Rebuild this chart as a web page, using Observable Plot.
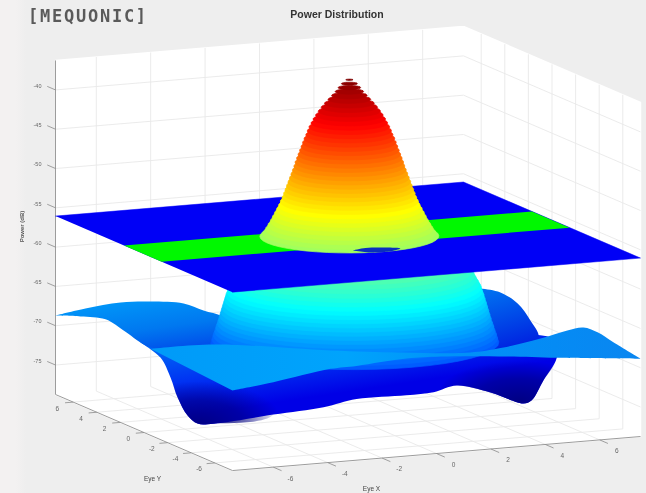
<!DOCTYPE html>
<html><head><meta charset="utf-8">
<script src="https://cdn.jsdelivr.net/npm/d3@7"></script>
<script src="https://cdn.jsdelivr.net/npm/@observablehq/plot@0.6"></script>
<style>
html,body{margin:0;padding:0;width:646px;height:493px;overflow:hidden;background:linear-gradient(90deg,#f3f1f1 0,#f3f1f1 16px,#eeeeee 26px);}
#head{position:relative;height:26px;filter:blur(.7px);}
#logo{position:absolute;left:28px;top:6px;font:bold 17px "DejaVu Sans Mono",monospace;letter-spacing:1.75px;color:#5a5a5a;line-height:20px;white-space:nowrap;}
#title{position:absolute;left:287px;top:8px;width:100px;text-align:center;font:bold 10.5px "Liberation Sans",sans-serif;color:#333;line-height:13px;white-space:nowrap;}
#chart svg{display:block;filter:blur(.75px);background:transparent;}
</style></head><body>
<div id="head"><div id="logo">[MEQUONIC]</div><div id="title">Power Distribution</div></div>
<div id="chart"></div>
<script>
// ---- data (Eye X, Eye Y in model units, power in dB) ----
const xRange = [-7.5, 7.5];
const yRange = [-7.5, 7.5];
const zRange = [-79.2, -36.7];
const xTicks = [-6, -4, -2, 0, 2, 4, 6];
const yTicks = [6, 4, 2, 0, -2, -4, -6];
const zTickAt = [-40.45, -45.45, -50.45, -55.45, -60.45, -65.45, -70.45, -75.45];
const zTickText = ["-40", "-45", "-50", "-55", "-60", "-65", "-70", "-75"];

const planePower = -56.5;
const bandY = [-1.5, 1.7];

// dome above the plane: power, radius
const domePower = [-56.4,-56,-55.5,-55,-54.5,-54,-53.5,-53,-52.5,-52,-51.5,-51,-50.5,-50,-49.5,-49,-48.5,-48,-47.5,-47,-46.5,-46,-45.5,-45,-44.5,-44,-43.5,-43,-42.5,-42,-41.5,-41,-40.5,-40,-39.5,-39,-38.5,-38,-37.5,-37,-36.5];
const domeRadius = [3.02,2.92,2.83,2.75,2.67,2.6,2.53,2.46,2.39,2.33,2.27,2.22,2.17,2.12,2.07,2.02,1.97,1.92,1.87,1.83,1.78,1.73,1.68,1.63,1.58,1.53,1.47,1.42,1.36,1.29,1.22,1.14,1.05,.95,.84,.72,.6,.48,.38,.27,.12];
// column below the plane: power, radius
const columnPower = [-70,-69.5,-69,-68.5,-68,-67.5,-67,-66.5,-66,-65.5,-65,-64.5,-64,-63.5,-63,-62.5,-62,-61.5,-61,-60.5,-60,-59.5,-59,-58.5,-58,-57.5,-57];
const columnRadius = [4.86,4.82,4.78,4.73,4.69,4.64,4.6,4.56,4.52,4.48,4.44,4.4,4.36,4.31,4.27,4.2,4.12,4.05,3.95,3.85,3.75,3.65,3.55,3.45,3.35,3.25,3.15];
const domeCentreX = 0.05, columnCentreX = 0.25;

// surface outlines: [Eye X, Eye Y, power]
const leftLobe = [[-7.5,7.5,-69.15],[-6.72,6.76,-68],[-5.21,7.26,-68],[-4.22,7.01,-68],[-3.34,6.23,-68],[-3.23,4.8,-68],[-3.07,3.55,-68],[-3.52,.98,-68],[-5.27,-2.18,-68],[-7.5,-.55,-68],[-7.5,1.57,-67.4],[-7.5,3.26,-66.9],[-7.5,5.38,-67.9],[-7.5,7.5,-69.15]];
const rightLobe = [[6.64,4.92,-68],[6.87,4.61,-68],[7.2,3.68,-68],[6.94,1.62,-68],[6.12,-1.35,-68],[5.14,-4.28,-68],[3.04,-5.9,-68],[2.22,-3.56,-68]];
const skirt = [[-6.34,2.98,-70],[-6.24,1.51,-71],[-6.23,.68,-73],[-6.32,-.13,-75],[-6.18,-.65,-77],[-6,-1.08,-77.8],[-5.68,-1.7,-77.5],[-4.26,-3.5,-75.6],[-2.98,-4.8,-74.2],[-1.94,-5.2,-73.2],[-.24,-5.5,-73],[.76,-5.5,-72.9],[3.13,-2,-75],[4.8,-1.02,-77],[5.59,-1.99,-78],[5.76,-2.27,-77.5],[6.16,-2.36,-75],[6.73,-2.16,-72.5],[5.49,-5.02,-68],[-2.75,-2.32,-68],[-6.8,1.47,-68]];
const skirtDarkLeft = [[-6.23,.68,-73],[-6.32,-.13,-75],[-6.18,-.65,-77],[-6,-1.08,-77.8],[-5.68,-1.7,-77.5],[-4.26,-3.5,-75.6],[-3.84,-2.54,-72],[-5.37,.11,-72]];
const skirtDarkRight = [[1.78,-3.73,-74],[3.13,-2,-75],[4.8,-1.02,-77],[5.59,-1.99,-78],[5.76,-2.27,-77.5],[6.16,-2.36,-75],[6.73,-2.16,-72.5],[6.22,-1.12,-72],[3.7,-.99,-72]];
const flap = [[-7.5,-.55,-68.2],[-5.92,-2.26,-67],[-2.75,-4.86,-67],[-.74,-6.15,-67],[1.41,-7.12,-67],[7.5,4.36,-75.6],[7.5,.97,-72.2],[7.5,-1.3,-69.7],[7.5,-2.67,-68.45],[7.5,-3.86,-68.3],[7.5,-5.2,-68.7],[7.5,-7.5,-69.3],[7.5,-7.5,-69.3],[4.45,-7.5,-68.3],[2.61,-7.5,-67.6],[.15,-7.5,-66.9],[-1.1,-7.5,-66.8],[-2.94,-7.5,-67.2],[-3.9,-7.5,-67.3],[-6,-7.5,-68.4],[-7.5,-7.5,-69],[-7.5,-7.5,-69]];
const hole = [[-.82,-2.27,-56.5],[-.24,-2.04,-56.5],[.41,-2.24,-56.5],[.8,-2.6,-56.5],[.21,-2.94,-56.5],[-.47,-2.83,-56.5]];

const jetPower = [-79.2,-74.5,-68.5,-58,-47.5,-41.5,-36.7];
const jetColor = ["#00008f","#0000ff","#0080ff","#7fff7f","#ffff00","#ff2000","#7f0000"].map((c,i)=>c);
jetPower.splice(0, jetPower.length, -79.2,-73.86,-63.2,-52.5,-41.8,-36.5);
jetColor.splice(0, jetColor.length, "#00008f","#0000ff","#00ffff","#ffff00","#ff0000","#7f0000");

// ---- view: orthographic view of the box ----
const px = ([X, Y]) => 347.5 + 27.2 * X - 11.8 * Y;
const py = ([X, Y, Z]) => 415 - 2.27 * X - 5.07 * Y - 7.86 * (Z - zRange[0]);

const shape = (id, pts) => pts.map(p => ({id, p}));
const ring = (row, r, Z, cx) => d3.range(0, 49).map(i => {
  const a = i / 48 * 2 * Math.PI;
  return {id: row, power: Z, p: [cx + r * Math.cos(a), r * Math.sin(a), Z]};
});
const rings = (zs, rs, cx) => zs.flatMap((Z, i) => ring(i, rs[i], Z, cx));

const [x0, x1] = xRange, [y0, y1] = yRange, [zb, zt] = zRange;
const poly = (pts, opts) => Plot.line(pts, {x: px, y: py, ...opts});
const seg = (list, stroke, w) => Plot.link(list, {
  x1: d => px(d[0]), y1: d => py(d[0]), x2: d => px(d[1]), y2: d => py(d[1]), stroke, strokeWidth: w
});
const stack = rings => Plot.line(rings, {
  x: d => px(d.p), y: d => py(d.p), z: "id", fill: "power", stroke: "power", strokeWidth: .7
});

const grid = [
  ...xTicks.flatMap(v => [[[v,y1,zb],[v,y1,zt]], [[v,y0,zb],[v,y1,zb]]]),
  ...yTicks.flatMap(v => [[[x1,v,zb],[x1,v,zt]], [[x0,v,zb],[x1,v,zb]]]),
  ...zTickAt.flatMap(v => [[[x0,y1,v],[x1,y1,v]], [[x1,y1,v],[x1,y0,v]]])
];
const edges = [
  [[x0,y1,zb],[x0,y1,zt]],
  [[x0,y1,zb],[x0,y0,zb]],
  [[x0,y0,zb],[x1,y0,zb]]
];
const ticks = [
  ...xTicks.map(v => [[v,y0,zb],[v,y0-.7,zb]]),
  ...yTicks.map(v => [[x0,v,zb],[x0-.3,v,zb]]),
  ...zTickAt.map(v => [[x0,y1,v],[x0,y1+.7,v]])
];

const gradient = (id, [a,b,c,d], stops) => `<linearGradient id="${id}" x1="${a}" y1="${b}" x2="${c}" y2="${d}">` +
  stops.map(([o,col,op]) => `<stop offset="${o}" stop-color="${col}" stop-opacity="${op ?? 1}"/>`).join("") + `</linearGradient>`;
const radial = (id, cx, cy, r, col) => `<radialGradient id="${id}" cx="${cx}" cy="${cy}" r="${r}">` +
  `<stop offset="0" stop-color="${col}" stop-opacity=".95"/><stop offset=".55" stop-color="${col}" stop-opacity=".6"/><stop offset="1" stop-color="${col}" stop-opacity="0"/></radialGradient>`;
const defs = () => {
  const s = d3.create("svg:g");
  s.html(`<defs>` +
    gradient("gLeft", [.3,0,.8,1], [[0,"#0096f8"],[.5,"#0078f0"],[1,"#0040e8"]]) +
    gradient("gRight", [.3,0,.7,1], [[0,"#0078f2"],[.55,"#0048e8"],[1,"#0020e0"]]) +
    gradient("gSkirt", [.2,.1,.55,.6], [[0,"#0060f5"],[.5,"#0030f2"],[1,"#0000e6"]]) +
    gradient("gFlap", [0,0,1,0], [[0,"#009af8"],[.4,"#00a4fc"],[.65,"#0090f8"],[1,"#0a86f0"]]) +
    radial("gDarkL", .25, 1, .8, "#00007f") +
    radial("gDarkR", .68, .95, .75, "#00007f") +
    `</defs>`);
  return s.node();
};

const fig = Plot.plot({
  width: 646, height: 467,
  margin: 0,
  x: {domain: [0, 646], range: [0, 646], axis: null},
  y: {domain: [26, 493], range: [0, 467], axis: null},
  color: {type: "linear", domain: jetPower, range: jetColor, clamp: true},
  style: {background: "transparent"},
  marks: [
    defs,
    // box walls and floor
    poly([[x0,y1,zt],[x1,y1,zt],[x1,y0,zt],[x1,y0,zb],[x0,y0,zb],[x0,y1,zb]], {fill: "#ffffff", stroke: "#ffffff"}),
    seg(grid, "#e9e9e9", .9),
    seg(edges, "#9c9c9c", 1),
    seg(ticks, "#8a8a8a", .8),
    // lower surface
    poly(skirt, {fill: "url(#gSkirt)", stroke: "none", curve: "catmull-rom"}),
    poly(skirtDarkLeft, {fill: "url(#gDarkL)", stroke: "none", curve: "catmull-rom"}),
    poly(skirtDarkRight, {fill: "url(#gDarkR)", stroke: "none", curve: "catmull-rom"}),
    poly(leftLobe, {fill: "url(#gLeft)", stroke: "none", curve: "catmull-rom"}),
    poly(rightLobe, {fill: "url(#gRight)", stroke: "none", curve: "catmull-rom"}),
    stack(rings(columnPower, columnRadius, columnCentreX)),
    poly(flap, {fill: "url(#gFlap)", stroke: "none", curve: "catmull-rom"}),
    // the flat plane with its band
    poly([[x0,y0,planePower],[x1,y0,planePower],[x1,y1,planePower],[x0,y1,planePower]], {fill: "#0000f6", stroke: "#0000f6", strokeWidth: .5}),
    poly([[x0,bandY[0],planePower],[x1,bandY[0],planePower],[x1,bandY[1],planePower],[x0,bandY[1],planePower]], {fill: "#00f800", stroke: "none"}),
    // dome
    stack(rings(domePower, domeRadius, domeCentreX)),
    poly(hole, {fill: "#0a2ec0", stroke: "none", curve: "catmull-rom"}),
    // axis text
    Plot.text(zTickAt, {x: () => 37, y: v => py([x0, y1 + .7, v]) - .5, text: (v, i) => zTickText[i], fontSize: 5.5, fill: "#666", fontFamily: "Liberation Sans"}),
    Plot.text(xTicks, {x: v => px([v, y0 - 1.45, zb - .5]), y: v => py([v, y0 - 1.45, zb - .5]), text: v => String(v), fontSize: 6.5, fill: "#666", fontFamily: "Liberation Sans"}),
    Plot.text(yTicks, {x: v => px([x0 - .58, v, zb - .65]), y: v => py([x0 - .58, v, zb - .65]), text: v => String(v), fontSize: 6.5, fill: "#666", fontFamily: "Liberation Sans"}),
    Plot.text(["Power (dB)"], {x: () => 22, y: () => 226, rotate: -90, text: d => d, fontSize: 6, fontWeight: "bold", fill: "#555", fontFamily: "Liberation Sans"}),
    Plot.text(["Eye Y"], {x: () => 152, y: () => 478, text: d => d, fontSize: 6.5, fill: "#444", fontFamily: "Liberation Sans"}),
    Plot.text(["Eye X"], {x: () => 371, y: () => 488, text: d => d, fontSize: 6.5, fill: "#444", fontFamily: "Liberation Sans"})
  ]
});
document.getElementById("chart").append(fig);
</script>
</body></html>
